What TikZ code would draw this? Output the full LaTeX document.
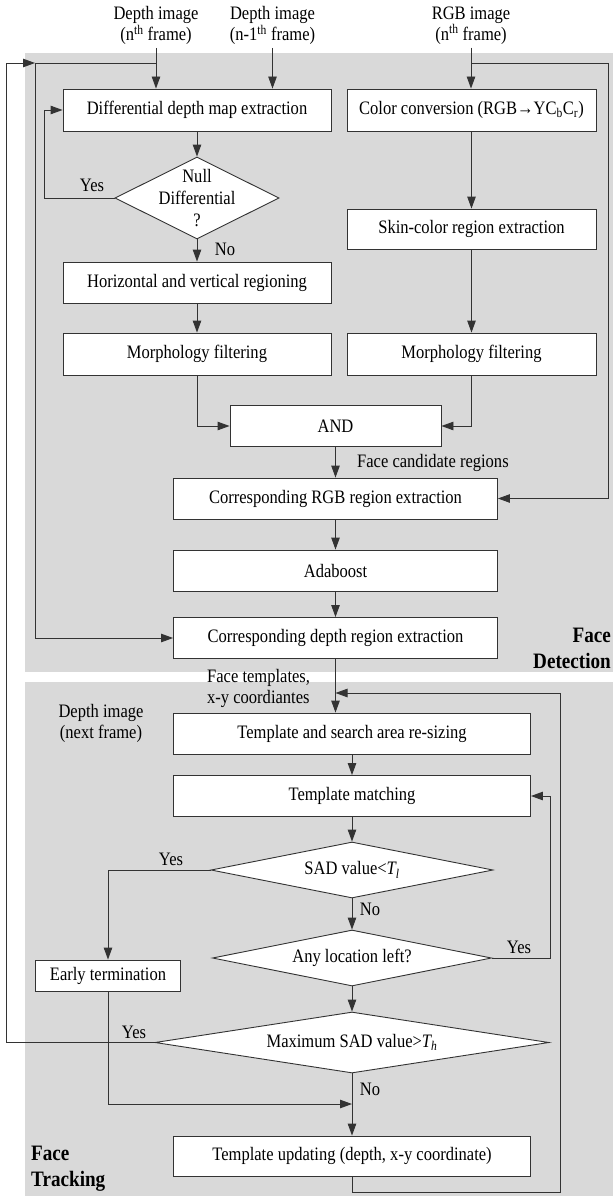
\documentclass[tikz,border=0pt]{standalone}
\usepackage{fontspec}
\setmainfont{Liberation Serif}[FakeStretch=0.87]
\usetikzlibrary{arrows.meta,shapes.geometric}
\definecolor{panelgray}{RGB}{217,217,217}
\tikzset{
  flowline/.style = {draw=black!80, line width=0.9pt},
  arr/.style = {flowline, -{Triangle[length=12pt,width=8.5pt]}},
  box_w/.style = {rectangle, draw=black!80, fill=white, line width=0.9pt, inner sep=0pt, align=center},
  box_l/.style = {box_w, minimum width=268pt, minimum height=42pt},
  box_r/.style = {box_w, minimum width=249pt, minimum height=42pt},
  box_m/.style = {box_w, minimum width=324pt, minimum height=41pt},
  box_t/.style = {box_w, minimum width=357pt, minimum height=41pt},
  dec_w/.style = {diamond, draw=black!80, fill=white, line width=0.9pt, inner sep=0pt, align=center},
  lbl/.style = {align=center, inner sep=0pt},
  ttl/.style = {inner sep=0pt, font=\fontsize{22pt}{26pt}\selectfont\bfseries},
}
\begin{document}
\begin{tikzpicture}[x=1pt, y=-1pt, font=\fontsize{19pt}{21pt}\selectfont]
  \useasboundingbox (0,0) rectangle (613,1196);
  \fill [panelgray] (25,53) rectangle (613,672);
  \fill [panelgray] (25,682) rectangle (613,1196);

  \node [lbl, inner sep=3pt] (dep_n) at (156,25.5) {Depth image\\(n\textsuperscript{th} frame)};
  \node [lbl, inner sep=3pt] (dep_p) at (272.5,25.5) {Depth image\\(n-1\textsuperscript{th} frame)};
  \node [lbl, inner sep=3pt] (rgb) at (471,25.5) {RGB image\\(n\textsuperscript{th} frame)};

  \node [box_l] (dif) at (197,110) {Differential depth map extraction};
  \node [box_r] (cvt) at (471.5,110) {Color conversion (RGB→YC\textsubscript{b}C\textsubscript{r})};
  \node [dec_w, aspect=2, minimum width=164pt, minimum height=82pt, inner xsep=-4pt, inner ysep=-14pt,
    font=\fontsize{19pt}{22pt}\selectfont] (nul) at (197,198) {Null\\Differential\\?};
  \node [box_r, minimum height=40pt] (skn) at (471.5,229) {Skin-color region extraction};
  \node [box_l, minimum height=41pt] (hv) at (197,282.5) {Horizontal and vertical regioning};
  \node [box_l] (mfl) at (197,354) {Morphology filtering};
  \node [box_r] (mfr) at (471.5,354) {Morphology filtering};
  \node [box_w, minimum width=211pt, minimum height=41pt] (and) at (335.5,426) {AND};
  \node [box_m] (rgbx) at (335.5,498.5) {Corresponding RGB region extraction};
  \node [box_m] (ada) at (335.5,570.5) {Adaboost};
  \node [box_m] (depx) at (335.5,638) {Corresponding depth region extraction};

  \node [box_t] (rsz) at (352,733.5) {Template and search area re-sizing};
  \node [box_t] (mat) at (352,796) {Template matching};
  \node [dec_w, aspect=5, minimum width=282pt, minimum height=56pt] (sad) at (352,870) {SAD value<\textit{T\textsubscript{l}}};
  \node [dec_w, aspect=5, minimum width=279pt, minimum height=56pt] (anl) at (352,958) {Any location left?};
  \node [box_w, minimum width=145pt, minimum height=31pt] (ert) at (108,975.5) {Early termination};
  \node [dec_w, aspect=6.5, minimum width=394pt, minimum height=61pt] (mxs) at (352,1042.5) {Maximum SAD value>\textit{T\textsubscript{h}}};
  \node [box_t, minimum height=40pt] (upd) at (352,1156) {Template updating (depth, x-y coordinate)};

  \node [lbl] (yes_n) at (92,185) {Yes};
  \node [lbl] (no_n) at (225,249) {No};
  \node [lbl, anchor=west] (fcr) at (357,462.5) {Face candidate regions};
  \node [lbl, align=left, anchor=west] (ftc) at (207,688) {Face templates,\\x-y coordiantes};
  \node [lbl] (dep_x) at (101,723) {Depth image\\(next frame)};
  \node [lbl] (yes_s) at (171,859) {Yes};
  \node [lbl] (no_s) at (370,909) {No};
  \node [lbl] (yes_a) at (519,947.5) {Yes};
  \node [lbl] (yes_m) at (134,1032) {Yes};
  \node [lbl] (no_m) at (370,1089) {No};
  \node [ttl, align=right, anchor=east] (t_det) at (611,648) {Face\\Detection};
  \node [ttl, align=left, anchor=west] (t_trk) at (31,1169) {Face\\Tracking};

  \coordinate (loop_t) at (35,63);
  \coordinate (loop_o) at (6,63);
  \coordinate (rgb_t) at (608,63);
  \coordinate (upd_j) at (335.5,693);
  \coordinate (upd_r) at (560,1192);
  \coordinate (end_j) at (352,1104);

  \draw [arr] (dep_n.south) -- (dep_n.south |- dif.north);
  \draw [arr] (dep_p.south) -- (dep_p.south |- dif.north);
  \draw [arr] (rgb.south) -- (rgb.south |- cvt.north);
  \draw [flowline] (loop_t) -- (loop_t -| dep_n);
  \draw [flowline] (loop_t -| rgb) -- (rgb_t);
  \draw [arr] (rgb_t) |- (rgbx.east);
  \draw [arr] (loop_t) |- (depx.west);
  \draw [arr] (mxs.west) -| (loop_o) -- (loop_t);
  \draw [arr] (dif.south) -- (nul.north);
  \draw [arr] (nul.west) -- ++(-70,0) |- (dif.west);
  \draw [arr] (nul.south) -- (hv.north);
  \draw [arr] (cvt.south) -- (skn.north);
  \draw [arr] (hv.south) -- (mfl.north);
  \draw [arr] (skn.south) -- (mfr.north);
  \draw [arr] (mfl.south) |- (and.west);
  \draw [arr] (mfr.south) |- (and.east);
  \draw [arr] (and.south) -- (rgbx.north);
  \draw [arr] (rgbx.south) -- (ada.north);
  \draw [arr] (ada.south) -- (depx.north);
  \draw [arr] (depx.south) -- (depx.south |- rsz.north);
  \draw [arr] (upd.south) -- (upd.south |- upd_r) -- (upd_r) |- (upd_j);
  \draw [arr] (rsz.south) -- (mat.north);
  \draw [arr] (mat.south) -- (sad.north);
  \draw [arr] (sad.west) -| (ert.north);
  \draw [arr] (sad.south) -- (anl.north);
  \draw [arr] (anl.east) -- ++(58,0) |- (mat.east);
  \draw [arr] (anl.south) -- (mxs.north);
  \draw [arr] (ert.south) |- (end_j);
  \draw [arr] (mxs.south) -- (upd.north);
\end{tikzpicture}
\end{document}
